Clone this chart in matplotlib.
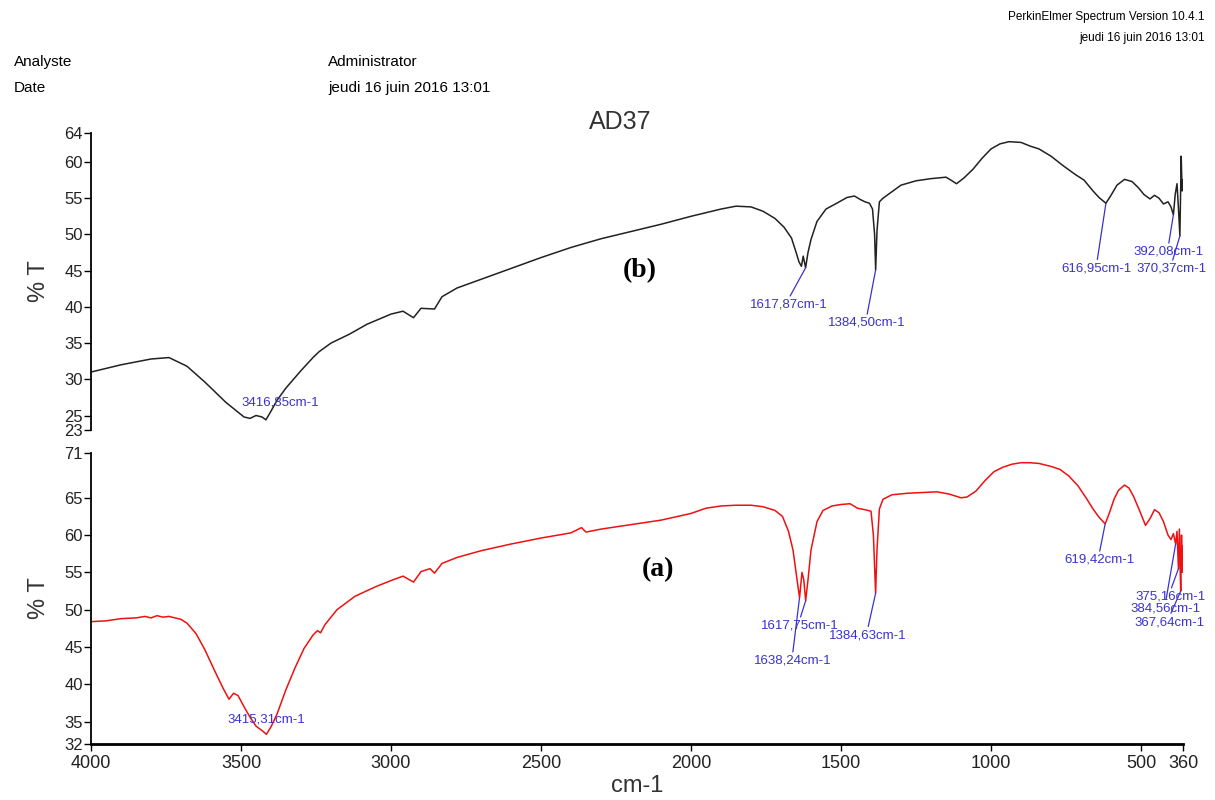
import matplotlib.pyplot as plt

plt.rcParams['font.family'] = ['Liberation Sans Narrow', 'Liberation Sans', 'DejaVu Sans']

# sample AD37, spectrum (b)
wn_b = [4000, 3900, 3800, 3740, 3680, 3620, 3580, 3550, 3520, 3490, 3470, 3450,
        3430, 3417, 3400, 3380, 3350, 3300, 3260, 3240, 3200, 3140, 3080, 3000,
        2960, 2925, 2900, 2855, 2830, 2780, 2700, 2600, 2500, 2400, 2300, 2200,
        2100, 2000, 1900, 1850, 1800, 1760, 1720, 1690, 1665, 1648, 1640, 1632,
        1626, 1618, 1610, 1600, 1580, 1550, 1510, 1480, 1455, 1435, 1420, 1405,
        1395, 1388, 1384.5, 1380, 1372, 1360, 1340, 1300, 1250, 1200, 1150, 1130,
        1115, 1090, 1060, 1030, 1000, 970, 940, 900, 870, 840, 800, 760, 720,
        690, 660, 640, 617, 600, 580, 555, 530, 510, 490, 470, 455, 440, 425,
        410, 400, 392, 386, 380, 375, 370.4, 366, 363, 360]
t_b = [31.0, 32.0, 32.8, 33.0, 31.8, 29.6, 28.0, 26.8, 25.8, 24.8, 24.6, 25.0,
       24.8, 24.4, 25.6, 27.1, 28.8, 31.2, 33.0, 33.8, 35.0, 36.2, 37.6, 39.0,
       39.4, 38.5, 39.8, 39.7, 41.4, 42.6, 43.8, 45.3, 46.8, 48.2, 49.4, 50.4,
       51.4, 52.5, 53.5, 53.9, 53.8, 53.2, 52.2, 51.0, 49.5, 47.3, 46.2, 45.6,
       47.0, 45.4, 47.5, 49.3, 51.8, 53.5, 54.4, 55.1, 55.3, 54.8, 54.5, 54.3,
       53.5, 50.0, 45.1, 50.5, 54.5, 55.0, 55.6, 56.8, 57.4, 57.7, 57.9, 57.4,
       57.0, 57.8, 59.0, 60.5, 61.8, 62.5, 62.8, 62.7, 62.2, 61.8, 60.8, 59.5,
       58.3, 57.5, 56.0, 55.1, 54.3, 55.4, 56.8, 57.6, 57.3, 56.5, 55.5, 54.9,
       55.4, 55.0, 54.2, 54.5, 53.8, 52.7, 55.5, 57.0, 53.5, 49.8, 60.8, 56.0,
       57.5]

# spectrum (a)
wn_a = [4000, 3950, 3900, 3850, 3820, 3800, 3780, 3760, 3740, 3720, 3700, 3680,
        3650, 3620, 3590, 3560, 3540, 3525, 3510, 3490, 3470, 3450, 3430, 3415.3,
        3400, 3380, 3350, 3320, 3290, 3260, 3245, 3235, 3220, 3180, 3120, 3050,
        3000, 2960, 2925, 2900, 2870, 2855, 2830, 2780, 2700, 2600, 2500, 2400,
        2365, 2350, 2300, 2200, 2100, 2000, 1950, 1900, 1850, 1800, 1760, 1720,
        1695, 1675, 1660, 1648, 1638.2, 1630, 1624, 1617.8, 1610, 1600, 1580,
        1560, 1530, 1500, 1470, 1445, 1420, 1400, 1392, 1384.6, 1380, 1372, 1360,
        1330, 1280, 1230, 1180, 1140, 1100, 1080, 1050, 1020, 990, 960, 930, 900,
        870, 840, 800, 770, 740, 710, 680, 660, 640, 619.4, 605, 590, 575, 555,
        540, 525, 505, 485, 470, 455, 440, 425, 410, 400, 392, 384.6, 380, 375.2,
        372, 369, 367.6, 365, 362, 360]
t_a = [48.4, 48.5, 48.8, 48.9, 49.1, 48.9, 49.2, 49.0, 49.1, 48.9, 48.7, 48.2,
       46.8, 44.6, 42.0, 39.5, 38.0, 38.8, 38.5, 37.0, 35.6, 34.4, 33.8, 33.3,
       34.3, 36.0, 39.3, 42.2, 44.8, 46.6, 47.2, 46.9, 48.0, 50.0, 51.8, 53.1,
       53.9, 54.5, 53.7, 55.1, 55.5, 54.9, 56.2, 57.0, 57.9, 58.8, 59.6, 60.3,
       61.0, 60.4, 60.8, 61.4, 62.0, 62.9, 63.6, 63.9, 64.0, 64.0, 63.8, 63.3,
       62.5, 60.5, 58.0, 54.5, 51.6, 55.0, 54.0, 51.2, 54.0, 58.0, 61.8,
       63.3, 63.9, 64.1, 64.2, 63.6, 63.4, 63.2, 60.0, 52.2, 58.0, 63.5, 64.8,
       65.4, 65.6, 65.7, 65.8, 65.5, 65.0, 65.1, 65.9, 67.3, 68.5, 69.1, 69.5, 69.7,
       69.7, 69.6, 69.2, 68.8, 67.9, 66.6, 64.8, 63.5, 62.4, 61.5, 63.0, 64.8, 66.0, 66.7,
       66.3, 65.2, 63.3, 61.3, 62.2, 63.4, 63.0, 61.8, 60.0, 59.4, 60.2, 58.8, 60.5, 55.5,
       60.8, 54.5, 52.5, 60.0, 55.0, 58.5]

# peak labels: wavenumber, %T at peak, text, label offset (px), leader line
peaks_b = [(3416.85, 24.4, '3416,85cm-1', (14, 17), False),
           (1617.87, 45.4, '1617,87cm-1', (-17, -37), True),
           (1384.50, 45.1, '1384,50cm-1', (-9, -53), True),
           (616.95, 54.3, '616,95cm-1', (-9, -65), True),
           (392.08, 52.7, '392,08cm-1', (-5, -37), True),
           (370.37, 49.8, '370,37cm-1', (-8, -33), True)]
peaks_a = [(3415.31, 33.3, '3415,31cm-1', (0, 15), False),
           (1617.75, 51.2, '1617,75cm-1', (-6, -25), True),
           (1638.24, 51.6, '1638,24cm-1', (-7, -63), True),
           (1384.63, 52.2, '1384,63cm-1', (-8, -42), True),
           (619.42, 61.5, '619,42cm-1', (-6, -36), True),
           (375.16, 55.5, '375,16cm-1', (-8, -28), True),
           (384.56, 58.8, '384,56cm-1', (-10, -64), True),
           (367.64, 52.5, '367,64cm-1', (-11, -31), True)]

yticks_b = [23, 25, 30, 35, 40, 45, 50, 55, 60, 64]
yticks_a = [32, 35, 40, 45, 50, 55, 60, 65, 71]
xticks = [4000, 3500, 3000, 2500, 2000, 1500, 1000, 500, 360]

blue = '#3a32d0'
W, H = 1215, 800
fig = plt.figure(figsize=(W / 100, H / 100), dpi=100)

ax_b = fig.add_axes([91 / W, 1 - 430 / H, 1092 / W, 297 / H])
ax_a = fig.add_axes([91 / W, 1 - 744 / H, 1092 / W, 291 / H])

ax_b.plot(wn_b, t_b, color='#222222', lw=1.1)
ax_a.plot(wn_a, t_a, color='#ee1111', lw=1.1)


def label_peaks(ax, peaks):
    for wn, t, txt, off, line in peaks:
        props = None
        if line:
            props = dict(arrowstyle='-', color=blue, lw=0.9, shrinkA=0,
                         shrinkB=0, relpos=(0.5, 1.0))
        ax.annotate(txt, xy=(wn, t), xytext=off, textcoords='offset pixels',
                    ha='center', va='center', fontsize=9.5, color=blue,
                    arrowprops=props)


label_peaks(ax_b, peaks_b)
label_peaks(ax_a, peaks_a)

for ax, ticks in [(ax_b, yticks_b), (ax_a, yticks_a)]:
    ax.set_xlim(4000, 360)
    ax.set_ylim(ticks[0], ticks[-1])
    ax.set_yticks(ticks)
    ax.spines['top'].set_visible(False)
    ax.spines['right'].set_visible(False)
    ax.spines['left'].set_linewidth(1.3)
    ax.spines['bottom'].set_linewidth(2.0)
    ax.tick_params(direction='out', length=5, width=1, labelsize=12, pad=1,
                   labelcolor='#222222')
    ax.set_ylabel('% T', fontsize=17, color='#333333', labelpad=10)
    ax.set_facecolor('none')

ax_b.spines['bottom'].set_visible(False)
ax_b.set_xticks([])
ax_a.set_xticks(xticks)
ax_a.tick_params(axis='x', labelsize=13, pad=3)
ax_a.set_xlabel('cm-1', fontsize=17, color='#333333', labelpad=2)

fig.text(620 / W, 1 - 122 / H, 'AD37', fontsize=18, ha='center', va='center',
         color='#333333')
fig.text(640 / W, 1 - 271 / H, '(b)', fontsize=20, fontweight='bold',
         family='Liberation Serif', ha='center', va='center')
fig.text(658 / W, 1 - 570 / H, '(a)', fontsize=20, fontweight='bold',
         family='Liberation Serif', ha='center', va='center')

# instrument header
fig.text(14 / W, 1 - 62 / H, 'Analyste', fontsize=11, va='center')
fig.text(14 / W, 1 - 88 / H, 'Date', fontsize=11, va='center')
fig.text(328 / W, 1 - 62 / H, 'Administrator', fontsize=11, va='center')
fig.text(328 / W, 1 - 88 / H, 'jeudi 16 juin 2016 13:01', fontsize=11,
         va='center')
fig.text(1205 / W, 1 - 17 / H, 'PerkinElmer Spectrum Version 10.4.1',
         fontsize=8.5, ha='right', va='center')
fig.text(1205 / W, 1 - 38 / H, 'jeudi 16 juin 2016 13:01', fontsize=8.5,
         ha='right', va='center')

fig.savefig('out.png', dpi=100)
